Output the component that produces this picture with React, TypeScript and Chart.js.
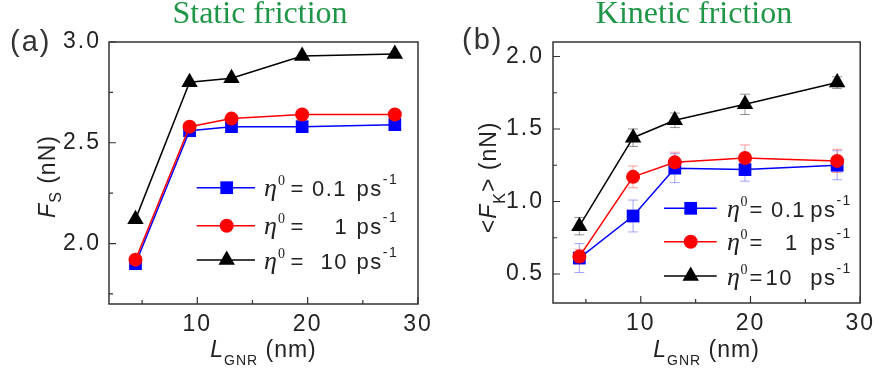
import { useEffect, useRef } from 'react';
import { Chart, registerables } from 'chart.js';

Chart.register(...registerables);

// GNR lengths (nm) shared by both panels
const lengths = [4.4, 9.3, 13.1, 19.5, 27.9];
const etaValues = ['0.1', '1', '10'];

// Static friction F_S (nN) for eta0 = 0.1, 1, 10 ps^-1
const staticSlow = [1.9, 2.56, 2.58, 2.58, 2.59];
const staticMid = [1.92, 2.58, 2.62, 2.64, 2.64];
const staticFast = [2.12, 2.8, 2.82, 2.93, 2.94];

// Mean kinetic friction <F_K> (nN) with error bars
const kineticSlow = [0.61, 0.9, 1.23, 1.22, 1.25];
const kineticMid = [0.62, 1.17, 1.27, 1.3, 1.28];
const kineticFast = [0.83, 1.44, 1.56, 1.67, 1.82];
const kineticSlowErr = [0.1, 0.11, 0.1, 0.08, 0.1];
const kineticMidErr = [0.05, 0.075, 0.07, 0.09, 0.08];
const kineticFastErr = [0.06, 0.06, 0.05, 0.07, 0.04];

// Axis ticks
const xMajorTicks = [10, 20, 30];
const xMinorTicks = [5, 15, 25];
const staticYMajor = [2.0, 2.5, 3.0];
const staticYMinor = [1.75, 2.25, 2.75];
const kineticYMajor = [0.5, 1.0, 1.5, 2.0];
const kineticYMinor = [0.75, 1.25, 1.75];

const SANS = '"Liberation Sans", Arial, sans-serif';
const SERIF = '"Liberation Serif", "Times New Roman", serif';
const INK = '#222';
const TITLE_GREEN = '#1f9647';
const SPACING = '2px';

type Style = { color: string; err: string; shape: 'rect' | 'circle' | 'triangle'; r: number };
const styles: Style[] = [
  { color: '#0000ff', err: 'rgba(90,90,255,0.55)', shape: 'rect', r: 9 },
  { color: '#ff0000', err: 'rgba(255,90,90,0.6)', shape: 'circle', r: 7 },
  { color: '#000000', err: 'rgba(40,40,40,0.5)', shape: 'triangle', r: 9.5 },
];

type Run = { text: string; font: string; dy?: number; x?: number };

type PanelCfg = {
  tag: string;
  tagX: number;
  tagY: number;
  title: string;
  titleX: number;
  yMin: number;
  yMax: number;
  yMajor: number[];
  yMinor: number[];
  series: number[][];
  errors: number[][] | null;
  area: { left: number; right: number; top: number; bottom: number };
  yLabelPad: number;
  yTitle: Run[];
  yTitleX: number;
  yTitleY: number;
  legendRows: number[];
  legendLine: [number, number, number];
  legendText: { eta: number; sup: number; eq: number; num: number[]; ps: number };
};

const staticPanel: PanelCfg = {
  tag: '(a)', tagX: 10, tagY: 51,
  title: 'Static friction', titleX: 260,
  yMin: 1.7, yMax: 3.0, yMajor: staticYMajor, yMinor: staticYMinor,
  series: [staticSlow, staticMid, staticFast],
  errors: null,
  area: { left: 109, right: 418, top: 42, bottom: 304 },
  yLabelPad: 8,
  yTitle: [
    { text: 'F', font: `italic 23px ${SANS}` },
    { text: 'S', font: `16px ${SANS}`, dy: 6 },
    { text: ' (nN)', font: `23px ${SANS}` },
  ],
  yTitleX: 55, yTitleY: 176.5,
  legendRows: [187.7, 225.7, 260],
  legendLine: [196.7, 255, 226.7],
  legendText: { eta: 264, sup: 278, eq: 290.5, num: [312, 334.6, 320.6], ps: 356.5 },
};

const kineticPanel: PanelCfg = {
  tag: '(b)', tagX: 22, tagY: 49,
  title: 'Kinetic friction', titleX: 254,
  yMin: 0.3, yMax: 2.1, yMajor: kineticYMajor, yMinor: kineticYMinor,
  series: [kineticSlow, kineticMid, kineticFast],
  errors: [kineticSlowErr, kineticMidErr, kineticFastErr],
  area: { left: 113, right: 423, top: 42, bottom: 303 },
  yLabelPad: 9,
  yTitle: [
    { text: '<', font: `23px ${SANS}` },
    { text: 'F', font: `italic 23px ${SANS}` },
    { text: 'K', font: `16px ${SANS}`, dy: 9 },
    { text: '> (nN)', font: `23px ${SANS}` },
  ],
  yTitleX: 56, yTitleY: 177.4,
  legendRows: [208.3, 241.7, 276],
  legendLine: [224, 276.7, 250.7],
  legendText: { eta: 287, sup: 300.5, eq: 309.5, num: [331, 345, 325.5], ps: 370.2 },
};

function drawRuns(ctx: CanvasRenderingContext2D, runs: Run[], x: number, y: number) {
  let cx = x;
  for (const r of runs) {
    if (r.x !== undefined) cx = r.x;
    ctx.font = r.font;
    ctx.fillText(r.text, cx, y + (r.dy || 0));
    cx += ctx.measureText(r.text).width;
  }
  return cx;
}

function runsWidth(ctx: CanvasRenderingContext2D, runs: Run[]) {
  let w = 0;
  for (const r of runs) {
    ctx.font = r.font;
    w += ctx.measureText(r.text).width;
  }
  return w;
}

function marker(ctx: CanvasRenderingContext2D, s: Style, x: number, y: number) {
  ctx.fillStyle = s.color;
  ctx.beginPath();
  if (s.shape === 'rect') {
    const h = s.r * Math.SQRT1_2;
    ctx.rect(x - h, y - h, 2 * h, 2 * h);
  } else if (s.shape === 'circle') {
    ctx.arc(x, y, s.r, 0, Math.PI * 2);
  } else {
    ctx.moveTo(x, y - s.r);
    ctx.lineTo(x + s.r * 0.866, y + s.r * 0.5);
    ctx.lineTo(x - s.r * 0.866, y + s.r * 0.5);
    ctx.closePath();
  }
  ctx.fill();
}

function makeDecor(cfg: PanelCfg) {
  return {
    id: 'panelDecor',
    beforeDraw(chart: any) {
      // the figure's lettering is slightly tracked out
      (chart.ctx as any).letterSpacing = SPACING;
    },
    beforeDatasetsDraw(chart: any) {
      if (!cfg.errors) return;
      const { ctx, scales } = chart;
      ctx.save();
      ctx.lineWidth = 1;
      cfg.errors.forEach((errs, si) => {
        ctx.strokeStyle = styles[si].err;
        errs.forEach((e, j) => {
          const v = cfg.series[si][j];
          const px = scales.x.getPixelForValue(lengths[j]);
          const top = scales.y.getPixelForValue(v + e);
          const bot = scales.y.getPixelForValue(v - e);
          ctx.beginPath();
          ctx.moveTo(px, top);
          ctx.lineTo(px, bot);
          ctx.moveTo(px - 5, top);
          ctx.lineTo(px + 5, top);
          ctx.moveTo(px - 5, bot);
          ctx.lineTo(px + 5, bot);
          ctx.stroke();
        });
      });
      ctx.restore();
    },
    afterDraw(chart: any) {
      const { ctx, chartArea: a, scales } = chart;
      ctx.save();

      // frame
      ctx.strokeStyle = '#333';
      ctx.lineWidth = 1.5;
      ctx.strokeRect(a.left, a.top, a.right - a.left, a.bottom - a.top);

      // inward tick marks on left and bottom edges
      ctx.lineWidth = 1.2;
      ctx.beginPath();
      const tick = (vals: number[], len: number, axis: 'x' | 'y') => {
        for (const v of vals) {
          if (axis === 'x') {
            const px = scales.x.getPixelForValue(v);
            ctx.moveTo(px, a.bottom);
            ctx.lineTo(px, a.bottom - len);
          } else {
            const py = scales.y.getPixelForValue(v);
            ctx.moveTo(a.left, py);
            ctx.lineTo(a.left + len, py);
          }
        }
      };
      tick(xMajorTicks, 7, 'x');
      tick(xMinorTicks, 4, 'x');
      tick(cfg.yMajor, 7, 'y');
      tick(cfg.yMinor, 4, 'y');
      ctx.stroke();

      // panel tag and title
      ctx.textBaseline = 'alphabetic';
      ctx.textAlign = 'left';
      ctx.letterSpacing = SPACING;
      ctx.fillStyle = '#333';
      ctx.font = `29px ${SANS}`;
      ctx.fillText(cfg.tag, cfg.tagX, cfg.tagY);
      ctx.letterSpacing = '0px';
      ctx.fillStyle = TITLE_GREEN;
      ctx.font = `32px ${SERIF}`;
      ctx.textAlign = 'center';
      ctx.fillText(cfg.title, cfg.titleX, 23);
      ctx.textAlign = 'left';

      // y-axis title (rotated)
      ctx.letterSpacing = '1px';
      ctx.fillStyle = INK;
      ctx.save();
      ctx.translate(cfg.yTitleX, cfg.yTitleY);
      ctx.rotate(-Math.PI / 2);
      const w = runsWidth(ctx, cfg.yTitle);
      drawRuns(ctx, cfg.yTitle, -w / 2, 0);
      ctx.restore();

      // x-axis title
      const xt: Run[] = [
        { text: 'L', font: `italic 23px ${SANS}` },
        { text: 'GNR', font: `14px ${SANS}`, dy: 8 },
        { text: ' (nm)', font: `23px ${SANS}` },
      ];
      const xw = runsWidth(ctx, xt);
      drawRuns(ctx, xt, (a.left + a.right) / 2 - xw / 2, 356.5);

      // legend
      const [l0, l1, lm] = cfg.legendLine;
      const t = cfg.legendText;
      cfg.legendRows.forEach((cy, i) => {
        const s = styles[i];
        ctx.strokeStyle = s.color;
        ctx.lineWidth = 1.5;
        ctx.beginPath();
        ctx.moveTo(l0, cy);
        ctx.lineTo(l1, cy);
        ctx.stroke();
        marker(ctx, s, lm, cy);
        ctx.fillStyle = INK;
        const by = cy + 8.5;
        ctx.letterSpacing = '0px';
        drawRuns(ctx, [{ text: 'η', font: `italic 26px ${SERIF}` }], t.eta, by);
        drawRuns(ctx, [{ text: '0', font: `14px ${SERIF}` }], t.sup, by - 11);
        ctx.letterSpacing = '1.5px';
        drawRuns(ctx, [{ text: '=', font: `22px ${SANS}` }], t.eq, by);
        drawRuns(ctx, [{ text: etaValues[i], font: `22px ${SANS}` }], t.num[i], by);
        drawRuns(
          ctx,
          [
            { text: 'ps', font: `22px ${SANS}` },
            { text: '-1', font: `14px ${SANS}`, dy: -12 },
          ],
          t.ps,
          by,
        );
      });

      ctx.restore();
    },
  };
}

function Panel({ cfg, left }: { cfg: PanelCfg; left: number }) {
  const ref = useRef<HTMLCanvasElement | null>(null);

  useEffect(() => {
    const canvas = ref.current;
    if (!canvas) return;
    const W = 440;
    const H = 371;
    const datasets = [2, 1, 0].map((si) => ({
      data: lengths.map((x, j) => ({ x, y: cfg.series[si][j] })),
      borderColor: styles[si].color,
      backgroundColor: styles[si].color,
      borderWidth: 1.5,
      pointStyle: styles[si].shape,
      pointRadius: styles[si].r,
      pointHoverRadius: styles[si].r,
      pointBackgroundColor: styles[si].color,
      pointBorderColor: styles[si].color,
      pointBorderWidth: 0,
      tension: 0,
      clip: false as const,
    }));

    const chart = new Chart(canvas, {
      type: 'line',
      data: { datasets },
      plugins: [makeDecor(cfg)],
      options: {
        responsive: false,
        animation: false,
        devicePixelRatio: 1,
        events: [],
        layout: {
          padding: { top: cfg.area.top, right: W - cfg.area.right, left: 0, bottom: 0 },
        },
        plugins: { legend: { display: false }, tooltip: { enabled: false } },
        scales: {
          x: {
            type: 'linear',
            min: 2,
            max: 30,
            grid: { display: false, drawTicks: false },
            border: { display: false },
            afterBuildTicks: (scale: any) => {
              scale.ticks = xMajorTicks.map((value) => ({ value }));
            },
            afterFit: (scale: any) => {
              scale.height = H - cfg.area.bottom;
            },
            ticks: {
              color: INK,
              padding: 7,
              maxRotation: 0,
              autoSkip: false,
              font: { family: SANS, size: 23 },
              callback: (v: any) => String(v),
            },
          },
          y: {
            type: 'linear',
            min: cfg.yMin,
            max: cfg.yMax,
            grid: { display: false, drawTicks: false },
            border: { display: false },
            afterBuildTicks: (scale: any) => {
              scale.ticks = cfg.yMajor.map((value) => ({ value }));
            },
            afterFit: (scale: any) => {
              scale.width = cfg.area.left;
            },
            ticks: {
              color: INK,
              padding: cfg.yLabelPad,
              autoSkip: false,
              font: { family: SANS, size: 23 },
              callback: (v: any) => Number(v).toFixed(1),
            },
          },
        },
      },
    });
    return () => chart.destroy();
  }, [cfg]);

  return (
    <canvas
      ref={ref}
      width={440}
      height={371}
      style={{ position: 'absolute', left, top: 0, width: 440, height: 371, display: 'block' }}
    />
  );
}

export default function App() {
  return (
    <div
      style={{
        position: 'fixed',
        left: 0,
        top: 0,
        width: 880,
        height: 371,
        background: '#fff',
        overflow: 'hidden',
      }}
    >
      <Panel cfg={staticPanel} left={0} />
      <Panel cfg={kineticPanel} left={440} />
    </div>
  );
}
